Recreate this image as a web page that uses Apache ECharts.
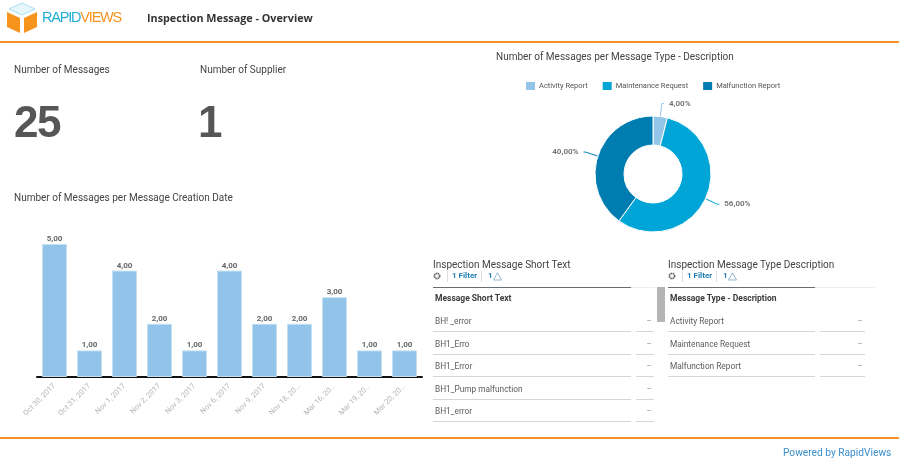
<!DOCTYPE html>
<html>
<head>
<meta charset="utf-8">
<title>Inspection Message - Overview</title>
<script src="https://cdn.jsdelivr.net/npm/echarts@6/dist/echarts.min.js"></script>
<style>
  html, body { margin: 0; padding: 0; background: #fff; }
  body { width: 899px; height: 463px; position: relative; overflow: hidden; font-family: Roboto, sans-serif; color: #333; }
  #chart { position: absolute; left: 0; top: 0; width: 899px; height: 463px; }
  .abs { position: absolute; white-space: nowrap; }
  .rule { position: absolute; height: 1px; }
  .orange { background: #f7912a; left: 0; width: 899px; height: 2px; }
  .kpi-label { font-size: 10px; color: #444; }
  .kpi-value { font-family: "Liberation Sans", sans-serif; font-size: 44px; font-weight: bold; color: #565656; line-height: 44px; letter-spacing: -1.5px; }
  .tbl-title { font-size: 10px; color: #444; }
  .tbl-head { font-size: 8.5px; font-weight: bold; color: #3a3a3a; }
  .tbl-row { font-size: 8.3px; color: #5c5c5c; }
  .dash { font-size: 8px; color: #888; width: 10px; text-align: center; }
  .filter { font-size: 8px; font-weight: bold; color: #1f7fb5; }
</style>
</head>
<body>
<div id="chart"></div>
<div id="chrome"></div>
<script>
var dates = ['Oct 30, 2017', 'Oct 31, 2017', 'Nov 1, 2017', 'Nov 2, 2017', 'Nov 3, 2017', 'Nov 6, 2017', 'Nov 9, 2017', 'Nov 18, 20...', 'Mar 16, 20...', 'Mar 19, 20...', 'Mar 20, 20...'];
var dateCounts = [5, 1, 4, 2, 1, 4, 2, 2, 3, 1, 1];

var messageTypes = ['Activity Report', 'Maintenance Request', 'Malfunction Report'];
var typeCounts = [1, 14, 10];
var typeColors = ['#93c5e8', '#00a5d8', '#007db0'];

var shortTexts = ['BH! _error', 'BH1_Erro', 'BH1_Error', 'BH1_Pump malfunction', 'BH1_error'];

function comma(v){
  return v.toFixed(2).replace('.', ',');
}

var chart = echarts.init(document.getElementById('chart'));

chart.setOption({
  animation: false,
  textStyle: { fontFamily: 'Roboto, sans-serif' },
  title: [{
    text: 'Number of Messages per Message Type - Description',
    left: 496, top: 52, padding: 0,
    textStyle: { fontSize: 10, fontWeight: 'normal', color: '#444' }
  }, {
    text: 'Number of Messages per Message Creation Date',
    left: 14, top: 193, padding: 0,
    textStyle: { fontSize: 10, fontWeight: 'normal', color: '#444' }
  }],
  legend: {
    left: 524, top: 80, padding: 0,
    icon: 'rect',
    itemWidth: 11, itemHeight: 10, itemGap: 13,
    textStyle: { fontSize: 7.5, color: '#555', padding: [0, 0, 0, -2] },
    data: messageTypes
  },
  grid: { left: 37, top: 244, width: 385, height: 133 },
  xAxis: {
    type: 'category',
    data: dates,
    axisLine: { lineStyle: { color: '#111', width: 2 } },
    axisTick: { show: false },
    axisLabel: { rotate: 45, fontSize: 7.5, color: '#b5b5b5', margin: 8, interval: 0 }
  },
  yAxis: { type: 'value', min: 0, max: 5, show: false },
  series: [{
    type: 'bar',
    data: dateCounts,
    barWidth: 25,
    itemStyle: { color: '#91c4e8', borderColor: '#c4dff2', borderWidth: 1 },
    label: {
      show: true, position: 'top', distance: 1,
      fontSize: 8, fontWeight: 'bold', color: '#666',
      formatter: function(p){ return comma(p.value); }
    }
  }, {
    type: 'pie',
    center: [653, 174],
    radius: [29, 58],
    startAngle: 90,
    data: messageTypes.map(function(name, i){
      return { name: name, value: typeCounts[i], itemStyle: { color: typeColors[i] } };
    }),
    itemStyle: { borderColor: '#fff', borderWidth: 1 },
    label: {
      fontSize: 8, fontWeight: 'bold', color: '#777',
      formatter: function(p){ return comma(p.percent) + '%'; }
    },
    labelLine: { length: 13, length2: 2, lineStyle: { width: 1 } }
  }]
});

// page furniture around the chart
var chrome = document.getElementById('chrome');

function add(cls, x, y, text, css){
  var el = document.createElement('div');
  el.className = cls;
  el.style.left = x + 'px';
  el.style.top = y + 'px';
  if(css){ el.style.cssText += css; }
  if(text){ el.textContent = text; }
  chrome.appendChild(el);
  return el;
}

function rule(x, y, w, color){
  add('rule', x, y, '', 'width:' + w + 'px;background:' + color + ';');
}

function filterBar(x){
  var el = add('abs', x, 271, '', 'height:11px;');
  el.innerHTML = '<svg width="8" height="8" style="position:absolute;left:0;top:1px"><circle cx="4" cy="4" r="2.6" fill="none" stroke="#666" stroke-width="1.8" stroke-dasharray="1.5 .6"/></svg>'
    + '<span class="abs" style="left:14px;top:0;width:1px;height:11px;background:#ddd"></span>'
    + '<span class="abs filter" style="left:19px;top:0">1 Filter</span>'
    + '<span class="abs" style="left:48px;top:0;width:1px;height:11px;background:#ddd"></span>'
    + '<span class="abs filter" style="left:55px;top:0">1</span>'
    + '<svg width="9" height="9" style="position:absolute;left:60px;top:1px"><path d="M4.5 .8 L8.5 8 H.5 Z" fill="none" stroke="#7aa6c2" stroke-width=".8"/></svg>';
}

function table(x, title, head, rows, w1, x2, w2, lightEnd){
  add('abs tbl-title', x, 259, title);
  filterBar(x);
  rule(x, 287, w1, '#666e73');
  rule(x + w1, 287, lightEnd - x - w1, '#eeeeee');
  add('abs tbl-head', x + 2, 293, head);
  rows.forEach(function(t, i){
    var base = 331 + Math.round(i * 22.5);
    add('abs tbl-row', x + 2, base - 15, t);
    add('abs dash', x2 + w2 - 10, base - 15, '\u2013');
    rule(x, base, w1, '#d5d5d5');
    rule(x2, base, w2, '#d5d5d5');
  });
}

add('rule orange', 0, 41, '');
add('rule orange', 0, 437, '');

var logo = add('abs', 6, 2, '');
logo.innerHTML = '<svg width="32" height="32" viewBox="0 0 32 32">'
  + '<path d="M16 1 L29 7 L16 13 L3 7 Z" fill="#e6f6fb" stroke="#a6dff0"/>'
  + '<path d="M1 10 L14 16 L14 31 L1 25 Z" fill="#f7941e"/>'
  + '<path d="M31 10 L18 16 L18 31 L31 25 Z" fill="#f7941e"/>'
  + '</svg>';
add('abs', 42, 9, '', 'font-family:"Liberation Sans",sans-serif;font-size:14.5px;letter-spacing:-1.2px;')
  .innerHTML = '<span style="color:#22aed6">RAPID</span><span style="color:#f7941e">VIEWS</span>';
add('abs', 147, 10, 'Inspection Message - Overview', 'font-family:"Open Sans",sans-serif;font-size:10.8px;font-weight:700;color:#333;');

add('abs kpi-label', 14, 64, 'Number of Messages');
add('abs kpi-label', 200, 64, 'Number of Supplier');
add('abs kpi-value', 14, 100, String(25));
add('abs kpi-value', 198, 100, String(1));

table(433, 'Inspection Message Short Text', 'Message Short Text', shortTexts, 198, 636, 18, 655);
table(668, 'Inspection Message Type Description', 'Message Type - Description', messageTypes, 147, 820, 45, 875);

add('abs', 657, 287, '', 'width:8px;height:35px;background:#b5b5b5;');
add('abs', 783, 447, 'Powered by RapidViews', 'font-size:10.2px;color:#3a8ecb;');
</script>
</body>
</html>
